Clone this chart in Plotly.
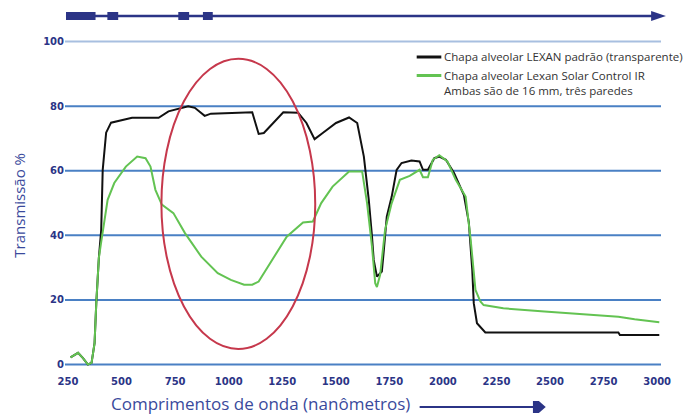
import plotly.graph_objects as go

# Spectral transmission of two 16 mm triple-wall polycarbonate sheets
black_nm = [262, 297, 320, 343, 360, 374, 382, 394, 405, 412, 428, 451, 549, 673, 719,
            811, 842, 888, 917, 1087, 1110, 1140, 1164, 1255, 1324, 1363, 1401, 1439,
            1501, 1562, 1600, 1631, 1654, 1669, 1677, 1692, 1715, 1723, 1738, 1761,
            1784, 1807, 1853, 1891, 1907, 1930, 1960, 1983, 2014, 2052, 2098, 2121,
            2137, 2144, 2159, 2198, 2819, 2826, 3010]
black_t = [2.2, 3.6, 2.0, 0.0, 0.5, 6.6, 19, 33, 41.7, 60.3, 71.8, 74.9, 76.4, 76.4, 78.4,
           80.0, 79.5, 77.0, 77.7, 78.1, 78.1, 71.4, 71.7, 78.1, 78.0, 74.8, 69.8, 71.7,
           74.8, 76.5, 74.8, 64.4, 51.0, 39.6, 32.4, 27.2, 28.8, 34.5, 45.8, 52.0,
           60.3, 62.4, 63.2, 62.9, 60.3, 60.3, 63.9, 64.4, 63.4, 59.3, 52.5, 44.0,
           29.3, 19.0, 12.8, 9.9, 9.9, 9.1, 9.1]

green_nm = [262, 297, 320, 343, 360, 374, 382, 394, 405, 420, 435, 466, 520, 573, 612,
            635, 658, 688, 742, 796, 872, 949, 1010, 1072, 1110, 1140, 1194, 1271,
            1347, 1393, 1432, 1485, 1562, 1623, 1646, 1669, 1684, 1692, 1707, 1730,
            1761, 1799, 1845, 1891, 1907, 1930, 1953, 1983, 2021, 2060, 2106, 2129,
            2152, 2175, 2190, 2282, 2474, 2665, 2819, 2895, 3010]
green_t = [2.2, 3.6, 2.0, 0.0, 0.5, 6.6, 19, 33, 38.0, 44.0, 51.0, 56.2, 61.3, 64.4, 63.9,
           61.3, 54.1, 49.5, 46.9, 40.7, 33.4, 28.3, 26.2, 24.7, 24.7, 25.7, 31.4, 39.6,
           44.0, 44.3, 50.0, 55.1, 59.8, 59.8, 50.0, 36.5, 25.2, 24.0, 27.8, 41.7,
           50.0, 57.2, 58.4, 60.3, 58.0, 58.0, 63.4, 64.8, 62.9, 57.2, 52.0, 39.0,
           23.1, 19.5, 18.4, 17.4, 16.4, 15.6, 14.8, 14.0, 13.1]

x_ticks = [250, 500, 750, 1000, 1250, 1500, 1750, 2000, 2250, 2500, 2750, 3000]
y_ticks = [0, 20, 40, 60, 80, 100]

legend_black = ["Chapa alveolar LEXAN padrão (transparente)"]
legend_green = ["Chapa alveolar Lexan Solar Control IR", "Ambas são de 16 mm, três paredes"]

NAVY = "#2b3486"
TITLE_BLUE = "#3a4a9c"
GRID = "#4a80c4"
BLACK = "#111111"
GREEN = "#63c352"

fig = go.Figure()
fig.add_trace(go.Scatter(x=black_nm, y=black_t, mode="lines", name=legend_black[0],
                         line=dict(color=BLACK, width=2)))
fig.add_trace(go.Scatter(x=green_nm, y=green_t, mode="lines", name=" ".join(legend_green),
                         line=dict(color=GREEN, width=2)))

# horizontal gridlines, the top one lighter
for v in y_ticks:
    fig.add_shape(type="line", xref="paper", yref="y", x0=0, x1=1, y0=v, y1=v,
                  line=dict(color="#a8bfe0" if v == 100 else GRID, width=2),
                  layer="below")

# highlighted region
fig.add_shape(type="circle", xref="x", yref="y", x0=686, x1=1404, y0=4.8, y1=94.7,
              line=dict(color="#c6384c", width=2), layer="above")


def px_x(p):
    return (p - 65) / 605.0


def px_y(p):
    return (374 - p) / 344.0


# range bar along the top
fig.add_shape(type="line", xref="paper", yref="paper", x0=px_x(66), x1=px_x(666),
              y0=px_y(16), y1=px_y(16), line=dict(color=NAVY, width=2.5))
for a, b in [(66, 96), (108, 119), (180, 191), (205, 215)]:
    fig.add_shape(type="rect", xref="paper", yref="paper", x0=px_x(a), x1=px_x(b),
                  y0=px_y(20), y1=px_y(12), line=dict(width=0), fillcolor=NAVY)
fig.add_shape(type="path", xref="paper", yref="paper",
              path=f"M {px_x(660)} {px_y(11)} L {px_x(675)} {px_y(16)} L {px_x(660)} {px_y(21)} Z",
              line=dict(width=0), fillcolor=NAVY)

# key in the upper right of the plot
leg_font = dict(family="Open Sans", size=11.5, color="#333333")
fig.add_shape(type="line", xref="paper", yref="paper", x0=px_x(422), x1=px_x(447),
              y0=px_y(57), y1=px_y(57), line=dict(color=BLACK, width=3))
fig.add_annotation(xref="paper", yref="paper", x=px_x(448), y=px_y(56.5),
                   xanchor="left", yanchor="middle", text=legend_black[0],
                   showarrow=False, font=leg_font)
fig.add_shape(type="line", xref="paper", yref="paper", x0=px_x(422), x1=px_x(447),
              y0=px_y(75.5), y1=px_y(75.5), line=dict(color=GREEN, width=3))
fig.add_annotation(xref="paper", yref="paper", x=px_x(448), y=px_y(82.5),
                   xanchor="left", yanchor="middle", align="left",
                   text="<br>".join(legend_green), showarrow=False, font=leg_font)

# axis titles
fig.add_annotation(xref="paper", yref="paper", x=px_x(263), y=px_y(403),
                   xanchor="center", yanchor="middle",
                   text="Comprimentos de onda (nanômetros)", showarrow=False,
                   font=dict(family="Open Sans", size=17, color=TITLE_BLUE))
fig.add_annotation(xref="paper", yref="paper", x=px_x(18), y=px_y(205),
                   xanchor="center", yanchor="middle",
                   text="Transmissão %", textangle=-90, showarrow=False,
                   font=dict(family="Open Sans", size=15, color=TITLE_BLUE))
fig.add_shape(type="line", xref="paper", yref="paper", x0=px_x(425), x1=px_x(545),
              y0=px_y(407), y1=px_y(407), line=dict(color=NAVY, width=2))
fig.add_shape(type="path", xref="paper", yref="paper",
              path=(f"M {px_x(540)} {px_y(401)} L {px_x(546)} {px_y(401)} "
                    f"L {px_x(553)} {px_y(407)} L {px_x(546)} {px_y(413)} "
                    f"L {px_x(540)} {px_y(413)} Z"),
              line=dict(width=0), fillcolor=NAVY)

fig.update_layout(
    width=683, height=414,
    margin=dict(l=65, r=13, t=30, b=40),
    paper_bgcolor="white", plot_bgcolor="white",
    showlegend=False,
    xaxis=dict(range=[236, 3018], tickvals=x_ticks, ticktext=[str(v) for v in x_ticks],
               showgrid=False, zeroline=False, showline=False, ticks="",
               tickfont=dict(family="DejaVu Sans", size=10, color=NAVY, weight="bold")),
    yaxis=dict(range=[-2.94, 103.6], tickvals=y_ticks, ticktext=[str(v) for v in y_ticks],
               showgrid=False, zeroline=False, showline=False, ticks="",
               tickfont=dict(family="DejaVu Sans", size=10, color=NAVY, weight="bold")),
)

fig.write_html("out.html")
